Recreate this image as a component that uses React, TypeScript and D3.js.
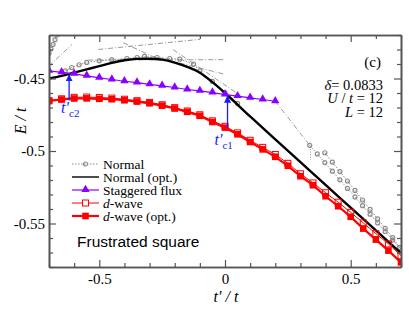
import React, { useEffect, useRef } from "react";
import * as d3 from "d3";

// t'/t grid for the d-wave curves
const tDwave = [-0.7, -0.65, -0.6, -0.55, -0.5, -0.45, -0.4, -0.35, -0.3, -0.25, -0.2, -0.15, -0.1, -0.05, 0,
  0.05, 0.1, 0.15, 0.2, 0.25, 0.3, 0.35, 0.4, 0.45, 0.5, 0.55, 0.6, 0.65, 0.7];
const dwaveOpt = [-0.4655, -0.4645, -0.4638, -0.4637, -0.464, -0.4643, -0.465, -0.4659, -0.4671, -0.4687, -0.4707,
  -0.473, -0.4757, -0.48, -0.4839, -0.4885, -0.4938, -0.4989, -0.504, -0.5102, -0.5174, -0.5236, -0.5312, -0.5381,
  -0.5454, -0.5535, -0.5611, -0.5687, -0.5768];
const dwave = [-0.4653, -0.464, -0.463, -0.4628, -0.4631, -0.4635, -0.4643, -0.4653, -0.4665, -0.4681, -0.4701,
  -0.4724, -0.475, -0.4792, -0.483, -0.4875, -0.4926, -0.4975, -0.5024, -0.5085, -0.5157, -0.522, -0.5288, -0.5353,
  -0.5423, -0.5496, -0.557, -0.5641, -0.5722];

const tFlux = [-0.7, -0.65, -0.6, -0.55, -0.5, -0.45, -0.4, -0.35, -0.3, -0.25, -0.2, -0.15, -0.1, -0.05, 0,
  0.05, 0.1, 0.15, 0.2];
const flux = [-0.4447, -0.4458, -0.4468, -0.4482, -0.4496, -0.4507, -0.4519, -0.4528, -0.4541, -0.4551, -0.4562,
  -0.4576, -0.4586, -0.4597, -0.4611, -0.4622, -0.4634, -0.4645, -0.4657];

const tNormOpt = [-0.7, -0.65, -0.6, -0.55, -0.5, -0.45, -0.4, -0.35, -0.3, -0.25, -0.2, -0.15, -0.1, -0.05, 0,
  0.1, 0.2, 0.3, 0.4, 0.5, 0.6, 0.7];
const normOpt = [-0.45, -0.4482, -0.4459, -0.4437, -0.4415, -0.4392, -0.4374, -0.4365, -0.4364, -0.437, -0.439,
  -0.442, -0.446, -0.4525, -0.46, -0.4762, -0.492, -0.5077, -0.5234, -0.5391, -0.5548, -0.5705];

// "Normal" branches (gray)
const normMainT = [-0.635, -0.61, -0.58, -0.55, -0.5, -0.45, -0.39, -0.35, -0.32, -0.27, -0.22, -0.18, -0.125,
  -0.1, -0.05, 0, 0.05];
const normMainE = [-0.4447, -0.4424, -0.4405, -0.4389, -0.4378, -0.437, -0.4362, -0.4355, -0.4348, -0.4355,
  -0.4362, -0.4367, -0.4401, -0.4447, -0.452, -0.4597, -0.4672];
const normLeftT = [-0.7, -0.692, -0.684, -0.676, -0.668];
const normLeftE = [-0.4325, -0.4295, -0.4265, -0.4232, -0.42];
const normRightAT = [0.337, 0.367, 0.397, 0.427, 0.457, 0.487, 0.517, 0.547, 0.577, 0.607, 0.637, 0.667, 0.694];
const normRightAE = [-0.4961, -0.502, -0.508, -0.5139, -0.5199, -0.5258, -0.5317, -0.5377, -0.5436, -0.5496,
  -0.5555, -0.5614, -0.5668];
const normRightBT = [0.397, 0.427, 0.457, 0.487, 0.517, 0.547, 0.577, 0.607, 0.637, 0.667, 0.694];
const normRightBE = [-0.5012, -0.5077, -0.5142, -0.5207, -0.5272, -0.5338, -0.5403, -0.5468, -0.5533, -0.5598,
  -0.5665];
// thin dash-dot gray segments [t, E] pairs
const normSegs: [number, number][][] = [
  [[-0.701, -0.4415], [-0.608, -0.4265]],
  [[-0.504, -0.43], [-0.099, -0.423]],
  [[-0.404, -0.4254], [-0.291, -0.4346], [-0.007, -0.4468]],
  [[-0.544, -0.4373], [0, -0.437]],
  [[-0.206, -0.4301], [0.046, -0.46]],
  [[0.2, -0.4657], [0.337, -0.4961]],
  [[0.34, -0.497], [0.34, -0.506]],
];

// critical points: t, E from, E to
const crit = [
  { t: -0.62, from: -0.4651, to: -0.4475, name: "c2" },
  { t: 0.01, from: -0.484, to: -0.4623, name: "c1" },
];

const xMajor = [-0.5, 0, 0.5];
const xMinor = [-0.7, -0.6, -0.4, -0.3, -0.2, -0.1, 0.1, 0.2, 0.3, 0.4, 0.6, 0.7];
const yMajor = [-0.45, -0.5, -0.55];
const yMinor = [-0.42, -0.43, -0.44, -0.46, -0.47, -0.48, -0.49, -0.51, -0.52, -0.53, -0.54, -0.56, -0.57, -0.58];

const legendItems = ["Normal", "Normal (opt.)", "Staggered flux", "d-wave", "d-wave (opt.)"];

const PURPLE = "#8a00ff";
const RED = "#ff0000";
const BLUE = "#1a1aff";
const GRAY = "#8c8c8c";
const SERIF = "Liberation Serif, DejaVu Serif, serif";

export default function App() {
  const ref = useRef<SVGSVGElement>(null);

  useEffect(() => {
    const svg = d3.select(ref.current);
    svg.selectAll("*").remove();
    const width = 409, height = 318;
    const margin = { top: 35, left: 49, right: 8, bottom: 51 };
    const iw = width - margin.left - margin.right;
    const ih = height - margin.top - margin.bottom;

    const x = d3.scaleLinear().domain([-0.7, 0.7]).range([0, iw]);
    const y = d3.scaleLinear().domain([-0.58, -0.42]).range([ih, 0]);

    const defs = svg.append("defs");
    defs.append("clipPath").attr("id", "plotclip").append("rect")
      .attr("width", iw).attr("height", ih);
    defs.append("marker").attr("id", "arrowhead").attr("viewBox", "0 0 10 10")
      .attr("refX", 9).attr("refY", 5).attr("markerWidth", 7).attr("markerHeight", 7)
      .attr("markerUnits", "userSpaceOnUse").attr("orient", "auto")
      .append("path").attr("d", "M0,0L10,5L0,10Z").attr("fill", BLUE);

    const g = svg.append("g").attr("transform", `translate(${margin.left},${margin.top})`);
    const plot = g.append("g").attr("clip-path", "url(#plotclip)");

    const line = d3.line<[number, number]>().x(d => x(d[0])).y(d => y(d[1]));
    const zip = (ts: number[], es: number[]) => ts.map((t, i) => [t, es[i]] as [number, number]);

    // gray "Normal" branches
    normSegs.forEach((seg, i) => {
      plot.append("path").attr("d", line(seg)).attr("fill", "none").attr("stroke", GRAY)
        .attr("stroke-width", 0.9).attr("stroke-dasharray", i === 6 ? "1,1.5" : "5,2,1,2");
    });
    [[normLeftT, normLeftE], [normMainT, normMainE], [normRightAT, normRightAE], [normRightBT, normRightBE]]
      .forEach(([ts, es]) => {
        const pts = zip(ts, es);
        plot.append("path").attr("d", line(pts)).attr("fill", "none").attr("stroke", GRAY)
          .attr("stroke-width", 1).attr("stroke-dasharray", "1.5,1.5");
        plot.selectAll(null).data(pts).enter().append("circle")
          .attr("cx", d => x(d[0])).attr("cy", d => y(d[1])).attr("r", 2)
          .attr("fill", "none").attr("stroke", GRAY).attr("stroke-width", 1.2);
      });

    // Normal (opt.)
    plot.append("path").attr("d", d3.line<[number, number]>().x(d => x(d[0])).y(d => y(d[1]))
      .curve(d3.curveMonotoneX)(zip(tNormOpt, normOpt)))
      .attr("fill", "none").attr("stroke", "#000").attr("stroke-width", 2.4);

    // Staggered flux
    const fluxPts = zip(tFlux, flux);
    plot.append("path").attr("d", line(fluxPts)).attr("fill", "none").attr("stroke", PURPLE).attr("stroke-width", 1.2);
    const tri = d3.symbol().type(d3.symbolTriangle).size(30);
    plot.selectAll(null).data(fluxPts).enter().append("path")
      .attr("d", tri).attr("transform", d => `translate(${x(d[0])},${y(d[1]) - 0.5})`).attr("fill", PURPLE);

    // d-wave
    const dPts = zip(tDwave, dwave);
    plot.append("path").attr("d", line(dPts)).attr("fill", "none").attr("stroke", RED).attr("stroke-width", 1);
    plot.selectAll(null).data(dPts).enter().append("rect")
      .attr("x", d => x(d[0]) - 3).attr("y", d => y(d[1]) - 3).attr("width", 6).attr("height", 6)
      .attr("fill", "none").attr("stroke", RED).attr("stroke-width", 1);

    // d-wave (opt.)
    const doPts = zip(tDwave, dwaveOpt);
    plot.append("path").attr("d", line(doPts)).attr("fill", "none").attr("stroke", RED).attr("stroke-width", 2.2);
    plot.selectAll(null).data(doPts).enter().append("rect")
      .attr("x", d => x(d[0]) - 3.3).attr("y", d => y(d[1]) - 3.3).attr("width", 6.6).attr("height", 6.6)
      .attr("fill", RED);

    // critical-point arrows and labels
    crit.forEach(c => {
      g.append("line").attr("x1", x(c.t)).attr("x2", x(c.t)).attr("y1", y(c.from)).attr("y2", y(c.to))
        .attr("stroke", BLUE).attr("stroke-width", 1.3).attr("marker-end", "url(#arrowhead)");
      const lx = c.name === "c2" ? x(c.t) - 8 : x(c.t) - 13;
      const ly = c.name === "c2" ? y(c.from) + 13 : y(c.from) + 17;
      const tx = g.append("text").attr("x", lx).attr("y", ly).attr("fill", BLUE)
        .style("font-family", SERIF).style("font-size", "16px").style("font-style", "italic");
      tx.append("tspan").text("t\u2032");
      tx.append("tspan").attr("dy", 4).style("font-size", "11px").style("font-style", "normal").text(c.name);
    });

    // axes
    const styleAxis = (sel: d3.Selection<SVGGElement, unknown, null, undefined>) => {
      sel.attr("font-family", null).attr("font-size", null);
      sel.select(".domain").attr("stroke", "#555").attr("stroke-width", 1.6);
      sel.selectAll(".tick line").attr("stroke", "#555").attr("stroke-width", 1.2);
      sel.selectAll(".tick text").attr("fill", "#000").style("font-family", SERIF).style("font-size", "15px");
    };
    const fmt = (d: d3.NumberValue) => String(+d);
    const ax = (gen: d3.Axis<d3.NumberValue>, tr: string) =>
      g.append("g").attr("transform", tr).call(gen).call(styleAxis as any);

    ax(d3.axisBottom(x).tickValues(xMajor).tickSize(-7).tickSizeOuter(0).tickPadding(6).tickFormat(fmt), `translate(0,${ih})`);
    ax(d3.axisBottom(x).tickValues(xMinor).tickSize(-4).tickSizeOuter(0).tickFormat(() => ""), `translate(0,${ih})`);
    ax(d3.axisTop(x).tickValues(xMajor).tickSize(-7).tickSizeOuter(0).tickFormat(() => ""), "translate(0,0)");
    ax(d3.axisTop(x).tickValues(xMinor).tickSize(-4).tickSizeOuter(0).tickFormat(() => ""), "translate(0,0)");
    ax(d3.axisLeft(y).tickValues(yMajor).tickSize(-7).tickSizeOuter(0).tickPadding(4).tickFormat(fmt), "translate(0,0)");
    ax(d3.axisLeft(y).tickValues(yMinor).tickSize(-4).tickSizeOuter(0).tickFormat(() => ""), "translate(0,0)");
    ax(d3.axisRight(y).tickValues(yMajor).tickSize(-7).tickSizeOuter(0).tickFormat(() => ""), `translate(${iw},0)`);
    ax(d3.axisRight(y).tickValues(yMinor).tickSize(-4).tickSizeOuter(0).tickFormat(() => ""), `translate(${iw},0)`);

    // axis titles
    svg.append("text").attr("transform", "translate(26,121) rotate(-90)").attr("text-anchor", "middle")
      .style("font-family", SERIF).style("font-size", "16px").style("font-style", "italic").text("E / t");
    svg.append("text").attr("x", 226).attr("y", 302).attr("text-anchor", "middle")
      .style("font-family", SERIF).style("font-size", "16px").style("font-style", "italic").text("t\u2032 / t");

    // panel annotations
    svg.append("text").attr("x", 381).attr("y", 67).attr("text-anchor", "end")
      .style("font-family", SERIF).style("font-size", "15px").text("(c)");
    const params = [
      [["\u03b4", true], ["= 0.0833", false]],
      [["U", true], [" / ", false], ["t", true], [" = 12", false]],
      [["L", true], [" = 12", false]],
    ] as [string, boolean][][];
    params.forEach((parts, i) => {
      const t = svg.append("text").attr("x", 383).attr("y", 90 + i * 13.3).attr("text-anchor", "end")
        .style("font-family", SERIF).style("font-size", "14.5px");
      parts.forEach(([s, it]) => t.append("tspan").style("font-style", it ? "italic" : "normal").text(s));
    });

    // legend
    const leg = svg.append("g").attr("transform", "translate(72,164)");
    legendItems.forEach((name, i) => {
      const row = leg.append("g").attr("transform", `translate(0,${i * 13})`);
      const ln = row.append("line").attr("x1", 0).attr("x2", 27).attr("y1", 0).attr("y2", 0);
      if (i === 0) {
        ln.attr("stroke", GRAY).attr("stroke-dasharray", "1.5,1.5");
        row.append("circle").attr("cx", 13.5).attr("r", 2).attr("fill", "none").attr("stroke", GRAY).attr("stroke-width", 1.2);
      } else if (i === 1) {
        ln.attr("stroke", "#000").attr("stroke-width", 1.4);
      } else if (i === 2) {
        ln.attr("stroke", PURPLE).attr("stroke-width", 1.2);
        row.append("path").attr("d", tri).attr("transform", "translate(13.5,-0.5)").attr("fill", PURPLE);
      } else if (i === 3) {
        ln.attr("stroke", RED).attr("stroke-width", 1);
        row.append("rect").attr("x", 10.5).attr("y", -3).attr("width", 6).attr("height", 6)
          .attr("fill", "white").attr("stroke", RED);
      } else {
        ln.attr("stroke", RED).attr("stroke-width", 2.2);
        row.append("rect").attr("x", 10.2).attr("y", -3.3).attr("width", 6.6).attr("height", 6.6).attr("fill", RED);
      }
      const tx = row.append("text").attr("x", 31).attr("y", 4.5)
        .style("font-family", SERIF).style("font-size", "13.5px");
      if (name.startsWith("d-")) {
        tx.append("tspan").style("font-style", "italic").text("d");
        tx.append("tspan").text(name.slice(1));
      } else {
        tx.text(name);
      }
    });

    svg.append("text").attr("x", 77).attr("y", 247)
      .style("font-family", "Liberation Sans, Arial, sans-serif").style("font-size", "15.5px")
      .text("Frustrated square");
  }, []);

  return (
    <svg ref={ref} width={409} height={318}
      style={{ position: "absolute", left: 0, top: 0, background: "#fff" }} />
  );
}
